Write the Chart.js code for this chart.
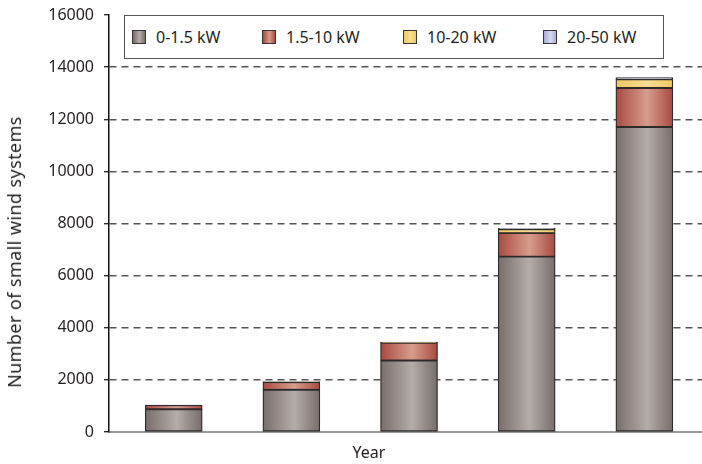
<!DOCTYPE html>
<html>
<head>
<meta charset="utf-8">
<script src="https://cdn.jsdelivr.net/npm/chart.js@4"></script>
<style>
  html, body { margin: 0; padding: 0; background: #fff; }
  #wrap { position: relative; width: 702px; height: 464px; font-family: "Noto Sans", sans-serif; color: #231f20; }
  #c { position: absolute; left: 0; top: 0; }
  #legend { position: absolute; left: 124px; top: 15px; width: 540px; height: 44px; border: 1px solid #555; box-sizing: border-box; background: #fff; }
  .item { position: absolute; top: 0; height: 42px; display: flex; align-items: center; font-size: 16px; white-space: nowrap; }
  .sw { width: 14px; height: 14px; border: 1px solid #3a3535; margin-right: 10px; box-sizing: border-box; }
  #ytitle { position: absolute; left: 14px; top: 252px; transform: translate(-50%, -50%) rotate(-90deg); font-size: 18px; letter-spacing: 0.4px; white-space: nowrap; }
  #xtitle { position: absolute; left: 369px; top: 452px; transform: translate(-50%, -50%); font-size: 16px; white-space: nowrap; }
</style>
</head>
<body>
<div id="wrap">
  <canvas id="c" width="702" height="464"></canvas>
  <div id="legend"></div>
  <div id="ytitle">Number of small wind systems</div>
  <div id="xtitle">Year</div>
</div>
<script>
// ---- data ----
const categories = ['1', '2', '3', '4', '5'];
const seriesLabels = ['0-1.5 kW', '1.5-10 kW', '10-20 kW', '20-50 kW'];
const small_0_1_5 = [870, 1620, 2740, 6730, 11700];
const small_1_5_10 = [160, 290, 680, 900, 1500];
const small_10_20 = [0, 20, 30, 150, 330];
const small_20_50 = [0, 0, 0, 30, 70];
const yTicks = [0, 2000, 4000, 6000, 8000, 10000, 12000, 14000, 16000];

// ---- styles ----
const gradStops = [
  ['#776d6b', '#b5adaa', '#776d6b'],
  ['#a94a41', '#d69d8c', '#a94a41'],
  ['#efc75e', '#f8df94', '#efc75e'],
  ['#a7abd7', '#d8daef', '#a7abd7']
];
const BAR_W = 57;

function gradient(stops) {
  return function (c) {
    const chart = c.chart;
    const xs = chart.scales && chart.scales.x;
    if (!xs || c.dataIndex === undefined) return stops[1];
    const x = xs.getPixelForValue(c.dataIndex);
    if (!isFinite(x)) return stops[1];
    const g = chart.ctx.createLinearGradient(x - BAR_W / 2, 0, x + BAR_W / 2, 0);
    g.addColorStop(0, stops[0]);
    g.addColorStop(0.55, stops[1]);
    g.addColorStop(1, stops[2]);
    return g;
  };
}

const seriesValues = [small_0_1_5, small_1_5_10, small_10_20, small_20_50];
const datasets = seriesValues.map((vals, i) => ({
  label: seriesLabels[i],
  data: vals.map((v, k) => ({ x: k, y: v })),
  backgroundColor: gradient(gradStops[i]),
  borderColor: '#2f2a2a',
  borderWidth: 1.3,
  borderSkipped: false,
  barThickness: BAR_W
}));

// HTML legend
const legendX = [7, 137, 278, 418];
const legend = document.getElementById('legend');
seriesLabels.forEach((lab, i) => {
  const it = document.createElement('div');
  it.className = 'item';
  it.style.left = legendX[i] + 'px';
  const sw = document.createElement('div');
  sw.className = 'sw';
  sw.style.background = 'linear-gradient(to right,' + gradStops[i][0] + ',' + gradStops[i][1] + ' 55%,' + gradStops[i][2] + ')';
  const t = document.createElement('span');
  t.textContent = lab;
  it.appendChild(sw);
  it.appendChild(t);
  legend.appendChild(it);
});

// re-apply gradients once element positions are final
const gradPlugin = {
  id: 'gradPlugin',
  beforeDatasetsDraw(chart) {
    chart.data.datasets.forEach((ds, di) => {
      const meta = chart.getDatasetMeta(di);
      meta.data.forEach((el) => {
        if (!isFinite(el.x)) return;
        const s = gradStops[di];
        const g = chart.ctx.createLinearGradient(el.x - el.width / 2, 0, el.x + el.width / 2, 0);
        g.addColorStop(0, s[0]);
        g.addColorStop(0.55, s[1]);
        g.addColorStop(1, s[2]);
        if (el.options && !Object.isFrozen(el.options)) el.options.backgroundColor = g;
      });
    });
  }
};

new Chart(document.getElementById('c'), {
  type: 'bar',
  data: { labels: categories, datasets: datasets },
  plugins: [gradPlugin],
  options: {
    responsive: false,
    animation: false,
    layout: { padding: { top: 15, right: 0, bottom: 32, left: 0 } },
    plugins: { legend: { display: false }, tooltip: { enabled: false } },
    scales: {
      x: {
        type: 'linear',
        offset: false,
        min: -0.55,
        max: 4.49,
        stacked: true,
        ticks: { display: false },
        grid: { display: false, drawTicks: false, tickLength: 0, offset: false },
        border: { display: true, color: '#9a9a9a', width: 2 }
      },
      y: {
        stacked: true,
        min: 0,
        max: 16000,
        afterBuildTicks: (s) => { s.ticks = yTicks.map(v => ({ value: v })); },
        afterFit: (s) => { s.width = 109; s.paddingTop = 0; s.paddingBottom = 0; },
        ticks: {
          padding: 10,
          color: '#231f20',
          font: { family: 'Noto Sans', size: 16 },
          callback: (v) => String(v)
        },
        grid: {
          color: (c) => (c.tick && (c.tick.value === 0 || c.tick.value === 16000)) ? 'rgba(0,0,0,0)' : '#555',
          lineWidth: 1.4,
          tickLength: 5,
          tickColor: '#222',
          tickWidth: 1.3
        },
        border: { display: true, color: '#111', width: 1.5, dash: [7, 5] }
      }
    }
  }
});
</script>
</body>
</html>
